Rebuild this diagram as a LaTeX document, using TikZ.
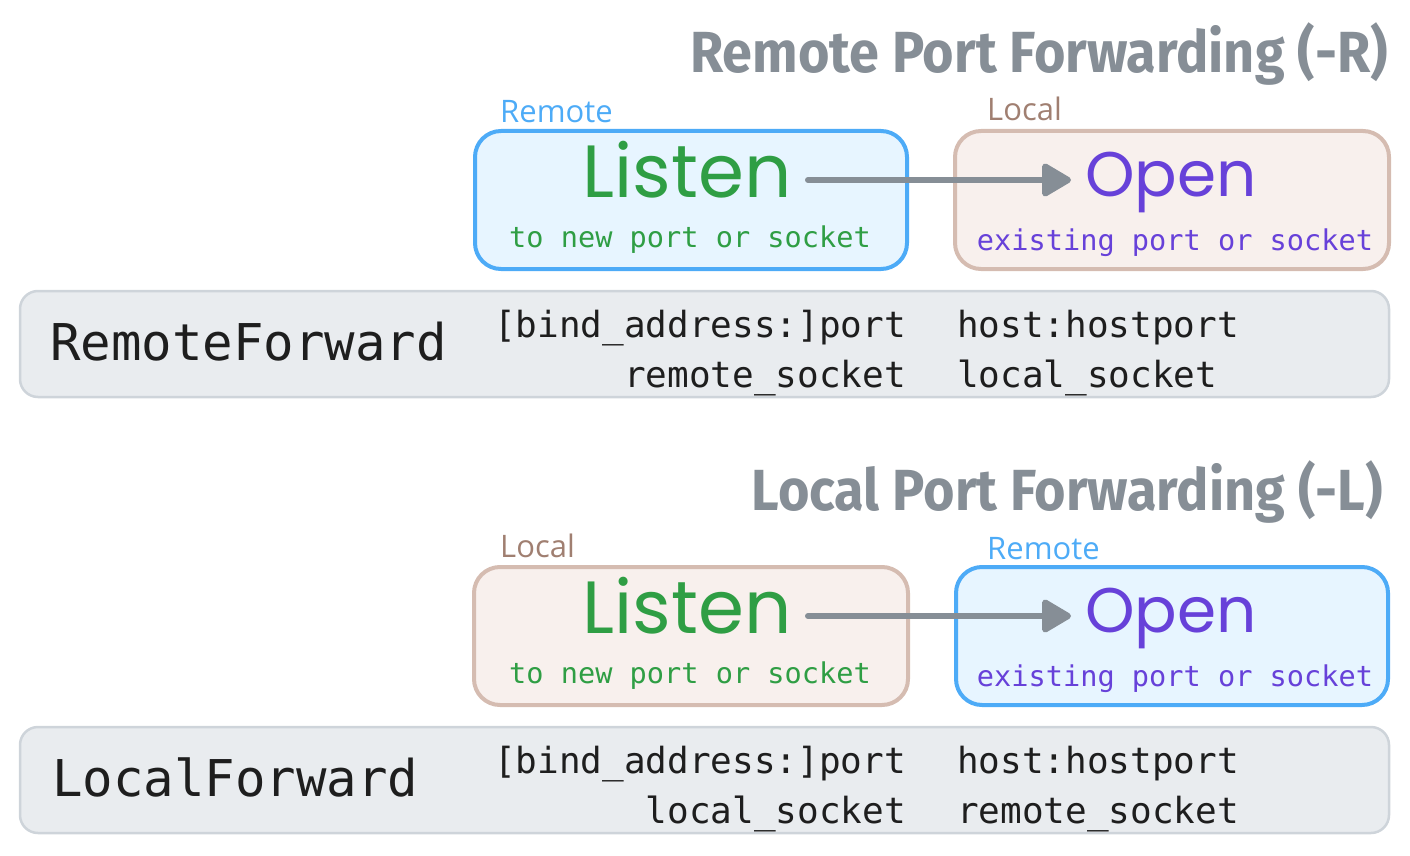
\documentclass[tikz,border=0pt]{standalone}
\usepackage{fontspec}
\usetikzlibrary{arrows.meta}
\newfontfamily\titlefont{Fira Sans}
\newfontfamily\monofont{DejaVu Sans Mono}
\newfontfamily\labelfont{Open Sans}
\newfontfamily\handfont{Poppins}
\definecolor{cblue}{HTML}{4DABF7}
\definecolor{cbluefill}{HTML}{E7F5FF}
\definecolor{cbrown}{HTML}{D5BCB1}
\definecolor{cbrownfill}{HTML}{F8F0ED}
\definecolor{cbrowntext}{HTML}{A07F71}
\definecolor{cgreen}{HTML}{2F9E44}
\definecolor{cpurple}{HTML}{6741D9}
\definecolor{cgray}{HTML}{868E96}
\definecolor{cbar}{HTML}{E9ECEF}
\definecolor{cbarline}{HTML}{CED4DA}
\definecolor{cink}{HTML}{1E1E1E}
\newcommand{\mytitle}[1]{\scalebox{0.93}[1]{#1}}
\tikzset{
  title/.style={anchor=base east, inner sep=0, text=cgray, font=\titlefont\fontsize{58}{60}\selectfont\bfseries},
  tag/.style={anchor=base west, inner sep=0, font=\labelfont\fontsize{31}{33}\selectfont},
  bluebox/.style={draw=cblue, fill=cbluefill, line width=4, rounded corners=26, minimum width=432, minimum height=138, inner sep=0},
  brownbox/.style={draw=cbrown, fill=cbrownfill, line width=4, rounded corners=26, minimum width=434, minimum height=138, inner sep=0},
  bar/.style={draw=cbarline, fill=cbar, line width=2.5, rounded corners=18, minimum width=1369, minimum height=106, inner sep=0},
  listenword/.style={anchor=base, inner sep=0, text=cgreen, font=\handfont\fontsize{74}{78}\selectfont},
  openword/.style={anchor=base, inner sep=0, text=cpurple, font=\handfont\fontsize{63}{66}\selectfont},
  subword/.style={anchor=base, inner sep=0, font=\monofont\fontsize{28.6}{30}\selectfont},
  keyword/.style={anchor=base west, inner sep=0, text=cink, font=\monofont\fontsize{50.7}{52}\selectfont},
  argleft/.style={anchor=base east, inner sep=0, text=cink, font=\monofont\fontsize{36}{38}\selectfont},
  argright/.style={anchor=base west, inner sep=0, text=cink, font=\monofont\fontsize{36}{38}\selectfont},
  flow/.style={draw=cgray, line width=6, line cap=round, -{Triangle[width=36,length=32,round]}},
}
\begin{document}
\begin{tikzpicture}[x=1pt,y=-1pt]
\useasboundingbox (0,0) rectangle (1410,856);
% ---------- Remote section ----------
\node[title] (t1) at (1388,73) {\mytitle{Remote Port Forwarding (-R)}};
\node[bluebox] (r1) at (691,200) {};
\node[brownbox] (r2) at (1172,200) {};
\node[tag, text=cblue] (r1tag) at (500,123) {Remote};
\node[tag, text=cbrowntext] (r2tag) at (987,121) {Local};
\node[listenword] (r1word) at (687,197) {Listen};
\node[subword, text=cgreen] (r1sub) at (690,247) {to new port or socket};
\node[openword] (r2word) at (1171,196) {Open};
\node[subword, text=cpurple] (r2sub) at (1175,250) {existing port or socket};
\coordinate (r1a) at (808,180);
\coordinate (r2a) at (1071,180);
\draw[flow] (r1a) -- (r2a);
\node[bar] (rbar) at (704.5,344) {};
\node[keyword] (rkey) at (50,360) {RemoteForward};
\node[argleft] (rl1) at (906,337) {[bind\_address:]port};
\node[argleft] (rl2) at (906,387) {remote\_socket};
\node[argright] (rr1) at (957,337) {host:hostport};
\node[argright] (rr2) at (957,387) {local\_socket};
% ---------- Local section ----------
\node[title] (t2) at (1383,510) {\mytitle{Local Port Forwarding (-L)}};
\node[brownbox] (l1) at (691,636) {};
\node[bluebox] (l2) at (1172,636) {};
\node[tag, text=cbrowntext] (l1tag) at (500,557) {Local};
\node[tag, text=cblue] (l2tag) at (987,559) {Remote};
\node[listenword] (l1word) at (687,633) {Listen};
\node[subword, text=cgreen] (l1sub) at (690,683) {to new port or socket};
\node[openword] (l2word) at (1171,632) {Open};
\node[subword, text=cpurple] (l2sub) at (1175,686) {existing port or socket};
\coordinate (l1a) at (808,616);
\coordinate (l2a) at (1071,616);
\draw[flow] (l1a) -- (l2a);
\node[bar] (lbar) at (704.5,780) {};
\node[keyword] (lkey) at (52,796) {LocalForward};
\node[argleft] (ll1) at (906,773) {[bind\_address:]port};
\node[argleft] (ll2) at (906,823) {local\_socket};
\node[argright] (lr1) at (957,773) {host:hostport};
\node[argright] (lr2) at (957,823) {remote\_socket};
\end{tikzpicture}
\end{document}
